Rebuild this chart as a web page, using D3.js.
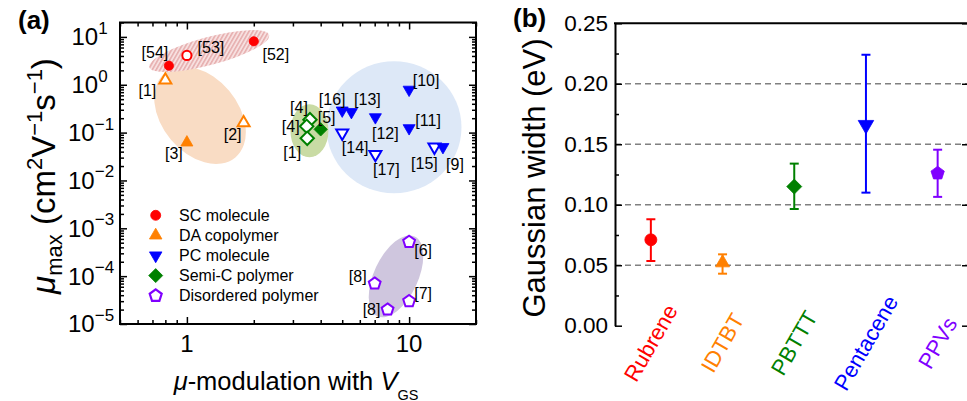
<!DOCTYPE html>
<html>
<head>
<meta charset="utf-8">
<script src="https://cdn.jsdelivr.net/npm/d3@7"></script>
<style>
  body { margin: 0; background: #fff; }
  svg { display: block; font-family: "Liberation Sans", Arial, Helvetica, sans-serif; }
</style>
</head>
<body>
<svg id="fig" width="967" height="401"></svg>
<script>
// ---------- Panel (a): maximum mobility vs. mobility modulation ----------
const groupNames  = ["SC molecule", "DA copolymer", "PC molecule", "Semi-C polymer", "Disordered polymer"];
const groupColors = ["#ff0000", "#ff8000", "#0000ff", "#008000", "#8000ff"];
const groupShapes = ["circle", "triangle", "triangleDown", "diamond", "pentagon"];

// SC molecule
const scRefs = ["[54]", "[53]", "[52]"];
const scMod  = [0.83, 1.0, 2.0];
const scMu   = [2.5, 4.1, 8.1];
const scOpen = [false, true, false];

// DA copolymer
const daRefs = ["[1]", "[2]", "[3]"];
const daMod  = [0.80, 1.8, 1.0];
const daMu   = [1.25, 0.16, 0.062];
const daOpen = [true, true, false];

// PC molecule
const pcRefs = ["[16]", "[13]", "[12]", "[10]", "[11]", "[14]", "[17]", "[15]", "[9]"];
const pcMod  = [5.0, 5.5, 7.05, 10, 10, 5.0, 7.05, 13.0, 14.2];
const pcMu   = [0.29, 0.27, 0.21, 0.79, 0.124, 0.098, 0.035, 0.05, 0.05];
const pcOpen = [false, false, false, false, false, true, true, true, false];

// Semi-crystalline polymer
const semiRefs = ["[4]", "[4]", "[1]", "[5]"];
const semiMod  = [3.58, 3.46, 3.48, 4.0];
const semiMu   = [0.186, 0.135, 0.076, 0.117];
const semiOpen = [true, true, true, false];

// Disordered polymer
const disRefs = ["[6]", "[8]", "[7]", "[8]"];
const disMod  = [10, 7.0, 10, 8.0];
const disMu   = [5.2e-4, 7.0e-5, 3.0e-5, 2.0e-5];
const disOpen = [true, true, true, true];

// shaded regions grouping each material class (centre in data units)
const regionMod = [1.26, 1.146, 8.55, 3.56, 8.73];
const regionMu  = [5.05, 0.23, 0.129, 0.109, 9.9e-5];

const xTickMajor = [1, 10];
const yTickMajor = [1e-5, 1e-4, 1e-3, 1e-2, 1e-1, 1, 10];

// ---------- Panel (b): Gaussian width of the density of states ----------
const materials   = ["Rubrene", "IDTBT", "PBTTT", "Pentacene", "PPVs"];
const matColors   = ["#ff0000", "#ff8000", "#008000", "#0000ff", "#8000ff"];
const matShapes   = ["circle", "triangle", "diamond", "triangleDown", "pentagon"];
const sigmaMean   = [0.071, 0.052, 0.115, 0.166, 0.126];
const sigmaLow    = [0.0535, 0.043, 0.0965, 0.110, 0.1065];
const sigmaHigh   = [0.088, 0.059, 0.134, 0.224, 0.1455];
const sigmaTicks  = [0, 0.05, 0.10, 0.15, 0.20, 0.25];
const sigmaMinor  = [0.025, 0.075, 0.125, 0.175, 0.225];
const sigmaGrid   = [0.05, 0.10, 0.15, 0.20];

// ---------- layout ----------
const svg = d3.select("#fig");
const A = { left: 120, right: 476, top: 22.5, bottom: 324 };
const B = { left: 615, right: 969, top: 23.3, bottom: 325.7 };

const x = d3.scaleLog().domain([0.5, 20]).range([A.left, A.right]);
const y = d3.scaleLog().domain([1e-5, 20]).range([A.bottom, A.top]);

// marker outline generator
function markerPath(shape, s) {
  const p = d3.path();
  if (shape === "circle") {
    p.arc(0, 0, s, 0, 2 * Math.PI); p.closePath();
    return p.toString();
  }
  let pts;
  if (shape === "triangle") {
    pts = [[0, -s / Math.sqrt(3)], [s / 2, s / (2 * Math.sqrt(3))], [-s / 2, s / (2 * Math.sqrt(3))]];
  } else if (shape === "triangleDown") {
    pts = [[0, s / Math.sqrt(3)], [s / 2, -s / (2 * Math.sqrt(3))], [-s / 2, -s / (2 * Math.sqrt(3))]];
  } else if (shape === "diamond") {
    pts = [[0, -s], [s, 0], [0, s], [-s, 0]];
  } else {
    pts = d3.range(5).map(k => {
      const a = (-90 + 72 * k) * Math.PI / 180;
      return [s * Math.cos(a), s * Math.sin(a)];
    });
  }
  p.moveTo(pts[0][0], pts[0][1]);
  pts.slice(1).forEach(q => p.lineTo(q[0], q[1]));
  p.closePath();
  return p.toString();
}
const sizeA = { circle: 4.6, triangle: 12, triangleDown: 12, diamond: 6.7, pentagon: 6.2 };

// ---------- panel (a) shaded regions ----------
const defs = svg.append("defs");
const hatch = defs.append("pattern")
  .attr("id", "hatchRed").attr("patternUnits", "userSpaceOnUse")
  .attr("width", 3.4).attr("height", 3.4)
  .attr("patternTransform", "rotate(45)");
hatch.append("rect").attr("width", 3.4).attr("height", 3.4).attr("fill", "#f7e0e0");
hatch.append("line").attr("x1", 0.8).attr("y1", 0).attr("x2", 0.8).attr("y2", 3.4)
  .attr("stroke", "#e3a5a5").attr("stroke-width", 1.3);

const regionStyle = [
  { fill: "url(#hatchRed)", rx: 62, ry: 14, rot: -15, order: 1 },
  { fill: "#f9dcc4", rx: 55, ry: 38, rot: 50, order: 0 },
  { fill: "#dde8f7", rx: 67.5, ry: 66, rot: 0, order: 2 },
  { fill: "#c9dba4", rx: 19, ry: 26.5, rot: 0, order: 3 },
  { fill: "#cfc6de", rx: 44, ry: 22, rot: -65, order: 4 }
];
const regionG = svg.append("g");
d3.range(regionMod.length)
  .sort((a, b) => regionStyle[a].order - regionStyle[b].order)
  .forEach(i => {
    const st = regionStyle[i];
    regionG.append("ellipse")
      .attr("transform", `translate(${x(regionMod[i])},${y(regionMu[i])}) rotate(${st.rot})`)
      .attr("rx", st.rx).attr("ry", st.ry)
      .attr("fill", st.fill);
  });

// ---------- panel (a) axes ----------
function isDecade(v) { const l = Math.log10(v); return Math.abs(l - Math.round(l)) < 1e-6; }
const xMinor = x.ticks().filter(v => !isDecade(v));
const yMinor = y.ticks().filter(v => !isDecade(v));

function tickGroup(tr, axis) {
  const g = svg.append("g").attr("transform", tr).call(axis);
  g.select(".domain").remove();
  g.selectAll("text").remove();
  g.selectAll("line").attr("stroke", "#000").attr("stroke-width", 1.5);
  return g;
}
[[-7, xTickMajor, yTickMajor], [-4, xMinor, yMinor]].forEach(([len, xv, yv]) => {
  tickGroup(`translate(0,${A.bottom})`, d3.axisBottom(x).tickValues(xv).tickSize(len));
  tickGroup(`translate(0,${A.top})`, d3.axisTop(x).tickValues(xv).tickSize(len));
  tickGroup(`translate(${A.left},0)`, d3.axisLeft(y).tickValues(yv).tickSize(len));
  tickGroup(`translate(${A.right},0)`, d3.axisRight(y).tickValues(yv).tickSize(len));
});
svg.append("rect")
  .attr("x", A.left).attr("y", A.top)
  .attr("width", A.right - A.left).attr("height", A.bottom - A.top)
  .attr("fill", "none").attr("stroke", "#000").attr("stroke-width", 2);

// y tick labels as powers of ten
yTickMajor.forEach(v => {
  const e = Math.round(Math.log10(v));
  const t = svg.append("text")
    .attr("x", e < 0 ? 68 : 71.5).attr("y", y(v) + 8.4)
    .attr("font-size", 24).attr("fill", "#000");
  t.append("tspan").text("10");
  t.append("tspan").attr("dy", -11.5).attr("font-size", 17)
    .text(e < 0 ? "\u2212" + (-e) : String(e));
});
xTickMajor.forEach(v => {
  svg.append("text").attr("x", x(v)).attr("y", 352)
    .attr("text-anchor", "middle").attr("font-size", 24).text(String(v));
});

// axis titles
const yt = svg.append("text")
  .attr("transform", "translate(55,176) rotate(-90)")
  .attr("text-anchor", "middle").attr("font-size", 33);
yt.append("tspan").attr("font-style", "italic").text("\u03bc");
yt.append("tspan").attr("font-size", 22).attr("dy", 7).text("max");
yt.append("tspan").attr("dy", -7).text(" (cm");
yt.append("tspan").attr("font-size", 22).attr("dy", -13).text("2");
yt.append("tspan").attr("dy", 13).text("V");
yt.append("tspan").attr("font-size", 22).attr("dy", -13).text("\u22121");
yt.append("tspan").attr("dy", 13).text("s");
yt.append("tspan").attr("font-size", 22).attr("dy", -13).text("\u22121");
yt.append("tspan").attr("dy", 13).text(")");

const xt = svg.append("text")
  .attr("x", 296).attr("y", 390)
  .attr("text-anchor", "middle").attr("font-size", 25.5);
xt.append("tspan").attr("font-style", "italic").text("\u03bc");
xt.append("tspan").text("-modulation with ");
xt.append("tspan").attr("font-style", "italic").text("V");
xt.append("tspan").attr("font-size", 14.5).attr("dy", 9.5).text("GS");

// ---------- panel (a) data points ----------
const seriesList = [
  { refs: scRefs, mod: scMod, mu: scMu, open: scOpen },
  { refs: daRefs, mod: daMod, mu: daMu, open: daOpen },
  { refs: pcRefs, mod: pcMod, mu: pcMu, open: pcOpen },
  { refs: semiRefs, mod: semiMod, mu: semiMu, open: semiOpen },
  { refs: disRefs, mod: disMod, mu: disMu, open: disOpen }
];
// reference-label offsets from each marker (px)
const labelShift = [
  [[-14, -13], [24, -8], [22, 13]],
  [[-18, 10], [-11, 12], [-13, 11]],
  [[-10, -11], [16, -12], [10, 16], [17, -9], [19, -8], [13, 14], [11, 15], [-10, 16], [12, 17]],
  [[-11, -12], [-16, 0], [-15, 14], [6, -12]],
  [[14, 9], [-17, -7], [14, -8], [-16, 0]]
];

const ptsG = svg.append("g");
seriesList.forEach((s, gi) => {
  const shape = groupShapes[gi], col = groupColors[gi];
  s.refs.forEach((ref, i) => {
    const px = x(s.mod[i]), py = y(s.mu[i]);
    ptsG.append("path")
      .attr("d", markerPath(shape, sizeA[shape]))
      .attr("transform", `translate(${px},${py})`)
      .attr("fill", s.open[i] ? "#fff" : col)
      .attr("stroke", col)
      .attr("stroke-width", s.open[i] ? 2 : 0.8)
      .attr("stroke-linejoin", "miter");
    const off = labelShift[gi][i];
    ptsG.append("text")
      .attr("x", px + off[0]).attr("y", py + off[1])
      .attr("text-anchor", "middle").attr("dominant-baseline", "central")
      .attr("font-size", 16).attr("fill", "#000")
      .text(ref);
  });
});

// legend
const legG = svg.append("g");
groupNames.forEach((name, i) => {
  const ly = 215.3 + i * 20.1;
  const shape = groupShapes[i];
  const sz = { circle: 5, triangle: 12.5, triangleDown: 12.5, diamond: 7, pentagon: 6.3 }[shape];
  const open = shape === "pentagon";
  legG.append("path")
    .attr("d", markerPath(shape, sz))
    .attr("transform", `translate(155.7,${ly})`)
    .attr("fill", open ? "#fff" : groupColors[i])
    .attr("stroke", groupColors[i]).attr("stroke-width", open ? 2.2 : 0.8);
  legG.append("text").attr("x", 179).attr("y", ly)
    .attr("dominant-baseline", "central").attr("font-size", 16).text(name);
});

// panel label
svg.append("text").attr("x", 18).attr("y", 28.5)
  .attr("font-size", 26).attr("font-weight", "bold").text("(a)");

// ---------- panel (b) ----------
const bx = d3.scaleLinear().domain([-0.5, 5.5]).range([B.left, B.left + 6 * 71.7]);
const by = d3.scaleLinear().domain([0, 0.25]).range([B.bottom, B.top]);

svg.append("g").selectAll("line").data(sigmaGrid).join("line")
  .attr("x1", B.left).attr("x2", B.right)
  .attr("y1", d => by(d)).attr("y2", d => by(d))
  .attr("stroke", "#808080").attr("stroke-width", 1.5)
  .attr("stroke-dasharray", "6,4");

const leftAx = svg.append("g").attr("transform", `translate(${B.left},0)`)
  .call(d3.axisLeft(by).tickValues(sigmaTicks).tickSize(-7).tickSizeOuter(0)
    .tickPadding(7).tickFormat(d3.format(".2f")));
leftAx.select(".domain").attr("stroke", "#000").attr("stroke-width", 2);
leftAx.selectAll("line").attr("stroke", "#000").attr("stroke-width", 1.5);
leftAx.selectAll("text").attr("font-size", 22.5).attr("fill", "#000")
  .attr("font-family", "Liberation Sans, Arial, sans-serif");

const minorAx = svg.append("g").attr("transform", `translate(${B.left},0)`)
  .call(d3.axisLeft(by).tickValues(sigmaMinor).tickSize(-4).tickFormat(""));
minorAx.select(".domain").remove();
minorAx.selectAll("line").attr("stroke", "#000").attr("stroke-width", 1.5);

const rightAx = svg.append("g").attr("transform", `translate(${B.right},0)`)
  .call(d3.axisLeft(by).tickValues(sigmaTicks).tickSize(7).tickFormat(""));
rightAx.select(".domain").remove();
rightAx.selectAll("line").attr("stroke", "#000").attr("stroke-width", 1.5);

svg.append("line")
  .attr("x1", B.left - 1).attr("x2", B.right)
  .attr("y1", B.top).attr("y2", B.top)
  .attr("stroke", "#000").attr("stroke-width", 2);

// error bars and markers
const sizeB = { circle: 6, triangle: 14, triangleDown: 15.5, diamond: 7.5, pentagon: 7 };
const barG = svg.append("g");
materials.forEach((m, i) => {
  const cx = bx(i), col = matColors[i];
  barG.append("line").attr("x1", cx).attr("x2", cx)
    .attr("y1", by(sigmaLow[i])).attr("y2", by(sigmaHigh[i]))
    .attr("stroke", col).attr("stroke-width", 2);
  [sigmaLow[i], sigmaHigh[i]].forEach(v => {
    barG.append("line").attr("x1", cx - 4.5).attr("x2", cx + 4.5)
      .attr("y1", by(v)).attr("y2", by(v))
      .attr("stroke", col).attr("stroke-width", 2);
  });
  barG.append("path")
    .attr("d", markerPath(matShapes[i], sizeB[matShapes[i]]))
    .attr("transform", `translate(${cx},${by(sigmaMean[i])})`)
    .attr("fill", col).attr("stroke", col).attr("stroke-width", 0.8);
  svg.append("text")
    .attr("transform", `translate(${cx},343) rotate(-60)`)
    .attr("text-anchor", "middle").attr("dominant-baseline", "central")
    .attr("font-size", 22).attr("fill", col).text(m);
});

svg.append("text")
  .attr("transform", "translate(545,178) rotate(-90)")
  .attr("text-anchor", "middle").attr("font-size", 31)
  .text("Gaussian width (eV)");

svg.append("text").attr("x", 513).attr("y", 27)
  .attr("font-size", 26).attr("font-weight", "bold").text("(b)");
</script>
</body>
</html>
